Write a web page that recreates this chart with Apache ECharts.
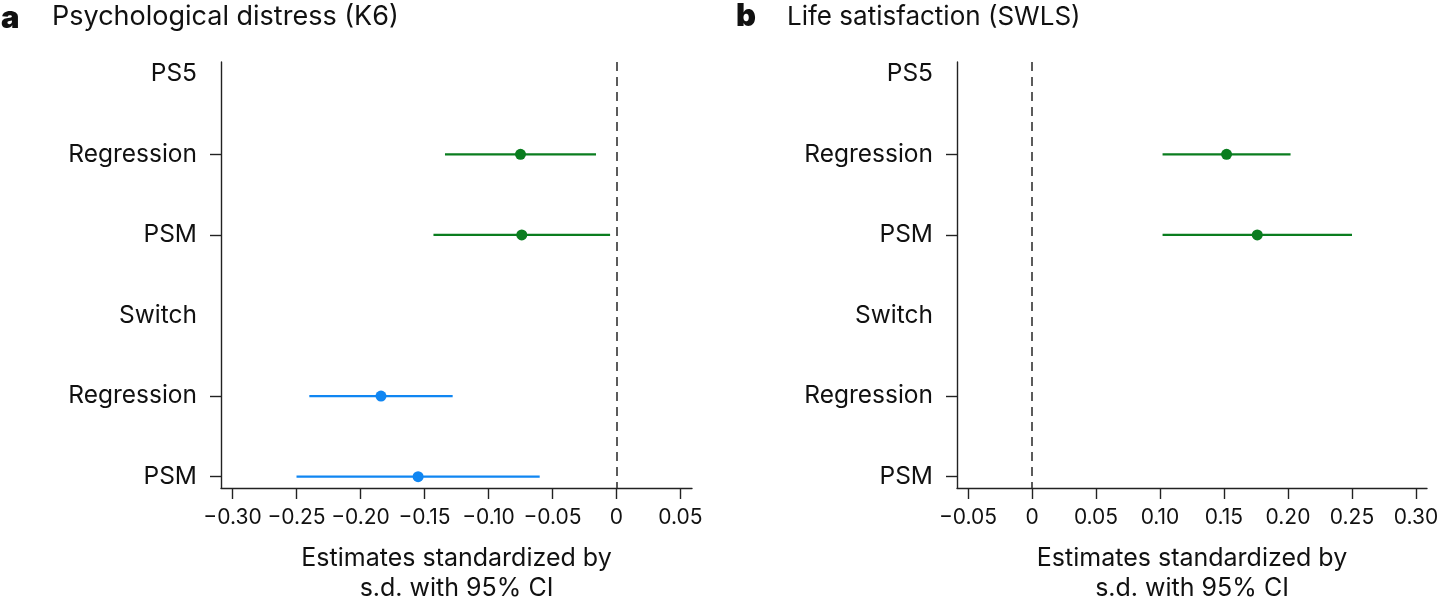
<!DOCTYPE html>
<html>
<head>
<meta charset="utf-8">
<script src="https://cdn.jsdelivr.net/npm/echarts@6/dist/echarts.min.js"></script>
<style>
html,body{margin:0;padding:0;background:#fff;}
#chart{width:1440px;height:603px;}
</style>
</head>
<body>
<div id="chart"></div>
<script>
// ---- data ----
const rowLabels = ['PS5', 'Regression', 'PSM', 'Switch', 'Regression', 'PSM'];
const rowGroup = ['header', 'ps5', 'ps5', 'header', 'switch', 'switch'];
const tickRows = [1, 2, 4, 5];

const k6Est  = [null, -0.075, -0.074, null, -0.184, -0.155];
const k6Low  = [null, -0.134, -0.143, null, -0.240, -0.250];
const k6High = [null, -0.016, -0.005, null, -0.128, -0.060];

const swlsEst  = [null, 0.152, 0.176, null, null, null];
const swlsLow  = [null, 0.102, 0.102, null, null, null];
const swlsHigh = [null, 0.202, 0.250, null, null, null];

const xTicksA = [-0.30, -0.25, -0.20, -0.15, -0.10, -0.05, 0, 0.05];
const xTicksB = [-0.05, 0, 0.05, 0.10, 0.15, 0.20, 0.25, 0.30];

const panelTitles = ['Psychological distress (K6)', 'Life satisfaction (SWLS)'];
const panelLetters = ['a', 'b'];
const axisTitle = 'Estimates standardized by\ns.d. with 95% CI';

// ---- style ----
const FONT = 'Inter';
const groupColor = { ps5: '#0a7d1f', switch: '#1086f2' };
const axisColor = '#222';

function fmt(v) {
  if (Math.abs(v) < 1e-9) return '0';
  const s = Math.abs(v).toFixed(2);
  return (v < 0 ? '\u2212' : '') + s;
}

function makeX(idx, ticks, min, max) {
  return {
    type: 'value', gridIndex: idx, min: min, max: max,
    axisLine: { show: true, onZero: false, lineStyle: { color: axisColor, width: 1.4 } },
    axisTick: { show: true, customValues: ticks, length: 11, lineStyle: { color: axisColor, width: 1.4 } },
    axisLabel: { customValues: ticks, formatter: fmt, fontFamily: FONT, fontSize: 21, color: '#111', margin: 19 },
    splitLine: { show: false },
    name: axisTitle, nameLocation: 'middle', nameGap: 55,
    nameTextStyle: { fontFamily: FONT, fontSize: 25, color: '#111', lineHeight: 30, verticalAlign: 'top' }
  };
}
function makeY(idx) {
  return {
    type: 'value', gridIndex: idx, inverse: true, min: -0.145, max: 5.14,
    axisLine: { show: true, onZero: false, lineStyle: { color: axisColor, width: 1.4 } },
    axisTick: { show: true, customValues: tickRows, length: 11, lineStyle: { color: axisColor, width: 1.4 } },
    axisLabel: { customValues: [0, 1, 2, 3, 4, 5], formatter: v => rowLabels[Math.round(v)], fontFamily: FONT, fontSize: 24.5, color: '#111', margin: 24 },
    splitLine: { show: false }
  };
}

function buildSeries(idx, est, low, high) {
  const ci = [], pts = [];
  for (let i = 0; i < rowLabels.length; i++) {
    if (est[i] === null) continue;
    const c = groupColor[rowGroup[i]];
    ci.push({ value: [low[i], high[i], i], itemStyle: { color: c } });
    pts.push({ value: [est[i], i], itemStyle: { color: c, opacity: 1 } });
  }
  return [
    {
      type: 'custom', xAxisIndex: idx, yAxisIndex: idx,
      encode: { x: [0, 1], y: 2 },
      data: ci,
      renderItem: function (params, api) {
        const a = api.coord([api.value(0), api.value(2)]);
        const b = api.coord([api.value(1), api.value(2)]);
        return { type: 'line', shape: { x1: a[0], y1: a[1], x2: b[0], y2: b[1] },
          style: { stroke: api.visual('color'), lineWidth: 2.2 } };
      },
      markLine: {
        silent: true, symbol: 'none', label: { show: false },
        lineStyle: { color: '#333', type: [9, 6], width: 1.6 },
        data: [{ xAxis: 0 }]
      },
      z: 2
    },
    {
      type: 'scatter', xAxisIndex: idx, yAxisIndex: idx,
      symbol: 'circle', symbolSize: 11, data: pts, z: 3,
      itemStyle: { opacity: 1 }
    }
  ];
}

const chart = echarts.init(document.getElementById('chart'), null, { renderer: 'canvas' });
chart.setOption({
  animation: false,
  backgroundColor: '#fff',
  grid: [
    { left: 221, right: 748, top: 62, bottom: 115, containLabel: false, outerBoundsMode: 'none' },
    { left: 957, right: 13, top: 62, bottom: 115, containLabel: false, outerBoundsMode: 'none' }
  ],
  xAxis: [makeX(0, xTicksA, -0.309, 0.059), makeX(1, xTicksB, -0.0586, 0.3086)],
  yAxis: [makeY(0), makeY(1)],
  series: [].concat(buildSeries(0, k6Est, k6Low, k6High), buildSeries(1, swlsEst, swlsLow, swlsHigh)),
  graphic: [
    { type: 'text', left: 1, top: 3, style: { text: panelLetters[0], font: '900 31px ' + FONT, fill: '#111' } },
    { type: 'text', left: 52, top: 3, style: { text: panelTitles[0], font: '27px ' + FONT, fill: '#111' } },
    { type: 'text', left: 736, top: 1, style: { text: panelLetters[1], font: '900 31px ' + FONT, fill: '#111' } },
    { type: 'text', left: 787, top: 4, style: { text: panelTitles[1], font: '26px ' + FONT, fill: '#111' } }
  ]
});
</script>
</body>
</html>
